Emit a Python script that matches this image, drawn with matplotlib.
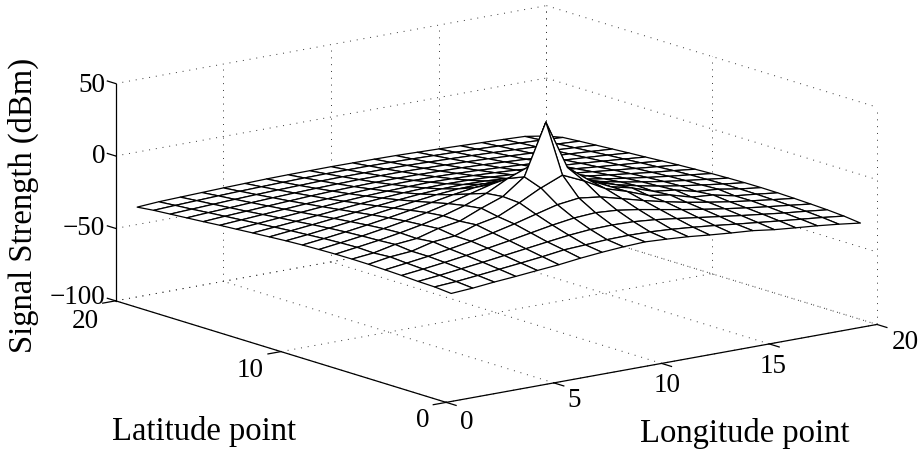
import numpy as np
import matplotlib
matplotlib.use('Agg')
import matplotlib.pyplot as plt

# Signal strength (dBm), one row per latitude point 1..20, columns are longitude 1..20
lon_points = list(range(1, 21))
lat_points = list(range(1, 21))
z_rows = [
    [-31.0, -30.0, -28.5, -27.3, -25.9, -24.6, -22.8, -21.4, -20.3, -19.6, -20.4, -21.4, -22.9, -24.2, -25.3, -27.3, -28.7, -30.0, -31.6, -33.5],
    [-30.0, -29.0, -27.5, -25.9, -24.3, -22.6, -20.6, -19.8, -18.9, -18.6, -18.9, -19.8, -21.1, -22.6, -24.3, -25.9, -27.5, -29.0, -30.5, -32.2],
    [-29.7, -28.2, -26.4, -24.6, -22.6, -20.6, -18.6, -16.7, -15.4, -15.0, -15.4, -16.7, -18.6, -20.6, -22.6, -24.6, -26.4, -28.2, -29.7, -31.4],
    [-29.1, -27.4, -25.5, -23.4, -21.1, -18.6, -15.9, -13.2, -11.0, -10.0, -11.0, -13.2, -15.9, -18.6, -21.1, -23.4, -25.5, -27.4, -29.1, -30.9],
    [-28.7, -26.8, -24.8, -22.4, -19.8, -16.7, -13.2, -9.2, -5.3, -3.4, -5.3, -9.2, -13.2, -16.7, -19.8, -22.4, -24.8, -26.8, -28.7, -30.5],
    [-28.4, -26.0, -24.8, -21.0, -19.6, -14.6, -11.6, -4.8, 2.8, 9.0, 2.3, -5.8, -10.4, -15.9, -18.2, -22.4, -23.6, -26.9, -28.4, -30.2],
    [-28.3, -26.8, -23.6, -22.2, -18.0, -15.6, -9.4, -4.0, 7.0, 42.0, 8.0, -3.4, -10.6, -14.2, -19.2, -21.0, -24.7, -25.8, -28.3, -30.1],
    [-28.4, -26.4, -24.3, -21.8, -18.9, -15.4, -11.0, -5.3, 2.3, 8.0, 2.3, -5.3, -11.0, -15.4, -18.9, -21.8, -24.3, -26.4, -28.4, -30.2],
    [-28.7, -26.8, -24.8, -22.4, -19.8, -16.7, -13.2, -9.2, -5.3, -3.4, -5.3, -9.2, -13.2, -16.7, -19.8, -22.4, -24.8, -26.8, -28.7, -30.5],
    [-29.1, -27.4, -25.5, -23.4, -21.1, -18.6, -15.9, -13.2, -11.0, -10.0, -11.0, -13.2, -15.9, -18.6, -21.1, -23.4, -25.5, -27.4, -29.1, -30.9],
    [-29.7, -28.2, -26.4, -24.6, -22.6, -20.6, -18.6, -16.7, -15.4, -15.0, -15.4, -16.7, -18.6, -20.6, -22.6, -24.6, -26.4, -28.2, -29.7, -31.4],
    [-30.5, -29.0, -27.5, -25.9, -24.3, -22.6, -21.1, -19.8, -18.9, -18.6, -18.9, -19.8, -21.1, -22.6, -24.3, -25.9, -27.5, -29.0, -30.5, -32.0],
    [-31.3, -30.0, -28.7, -27.3, -25.9, -24.6, -23.4, -22.4, -21.8, -21.6, -21.8, -22.4, -23.4, -24.6, -25.9, -27.3, -28.7, -30.0, -31.3, -32.7],
    [-32.2, -31.0, -29.8, -28.7, -27.5, -26.4, -25.5, -24.8, -24.3, -24.0, -24.3, -24.8, -25.5, -26.4, -27.5, -28.7, -29.8, -31.0, -32.2, -33.5],
    [-33.0, -32.0, -31.0, -30.0, -29.0, -28.2, -27.4, -26.8, -26.4, -26.3, -26.4, -26.8, -27.4, -28.2, -29.0, -30.0, -31.0, -32.0, -33.0, -34.2],
    [-34.0, -33.0, -32.2, -31.3, -30.5, -29.7, -29.1, -28.7, -28.4, -28.3, -28.4, -28.7, -29.1, -29.7, -30.5, -31.3, -32.2, -33.0, -34.0, -35.0],
    [-34.9, -34.0, -33.3, -32.5, -31.8, -31.2, -30.7, -30.3, -30.0, -30.0, -30.0, -30.3, -30.7, -31.2, -31.8, -32.5, -33.3, -34.0, -34.9, -35.8],
    [-35.8, -35.1, -34.4, -33.7, -33.1, -32.6, -32.2, -31.8, -31.6, -31.6, -31.6, -31.8, -32.2, -32.6, -33.1, -33.7, -34.4, -35.1, -35.8, -36.6],
    [-36.7, -36.0, -35.4, -34.8, -34.3, -33.9, -33.5, -33.2, -33.0, -33.0, -33.0, -33.2, -33.5, -33.9, -34.3, -34.8, -35.4, -36.0, -36.7, -37.5],
    [-38.0, -37.0, -36.5, -36.0, -35.5, -35.1, -34.7, -34.5, -34.4, -34.3, -34.4, -34.5, -34.7, -35.1, -35.5, -36.0, -36.5, -37.0, -37.6, -40.0],
]
lon_ticks = [0, 5, 10, 15, 20]
lat_ticks = [0, 10, 20]
z_ticks = [-100, -50, 0, 50]

W, H = 921, 452
plt.rcParams['font.family'] = ['Liberation Serif', 'DejaVu Serif']

fig = plt.figure(figsize=(W / 100, H / 100), dpi=100)
ax = fig.add_axes([0, 0, 1, 1], projection='3d', proj_type='ortho', computed_zorder=False)
ax.view_init(elev=30, azim=-127.5)
ax.set_box_aspect((1, 1, 0.98))
ax.set_xlim(0, 20)
ax.set_ylim(0, 20)
ax.set_zlim(-100, 50)
ax.set_axis_off()
ax.patch.set_alpha(0)

# matlab stretches the box to fill the figure, mplot3d wants it square
rect = ax.get_position(original=True)
ax.apply_aspect = lambda position=None: ax._set_position(rect, 'active')
s = ax._box_aspect[0]
ax.viewLim.intervalx = (-496.3 * s / 5430, (W - 496.3) * s / 5430)
ax.viewLim.intervaly = (-(H - 205) * s / 2560, 205 * s / 2560)


def dotted(xs, ys, zs):
    ax.plot(xs, ys, zs, color='#333333', lw=0.7, ls=(0, (1, 6)), zorder=1)


def solid(xs, ys, zs):
    ax.plot(xs, ys, zs, color='k', lw=0.9, zorder=3)


for v in lon_ticks:
    dotted([v, v], [0, 20], [-100, -100])
    dotted([v, v], [20, 20], [-100, 50])
for v in lat_ticks:
    dotted([0, 20], [v, v], [-100, -100])
    dotted([20, 20], [v, v], [-100, 50])
for v in z_ticks:
    dotted([0, 20], [20, 20], [v, v])
    dotted([20, 20], [20, 0], [v, v])

solid([0, 0], [20, 20], [-100, 50])
solid([0, 0], [20, 0], [-100, -100])
solid([0, 20], [0, 0], [-100, -100])
for v in z_ticks:
    solid([0, 0], [20, 20.5], [v, v])
for v in lat_ticks:
    solid([0, -0.6], [v, v], [-100, -100])
for v in lon_ticks:
    solid([v, v], [0, -0.6], [-100, -100])

X, Y = np.meshgrid(lon_points, lat_points)
ax.plot_surface(X, Y, np.array(z_rows), rstride=1, cstride=1, color='white',
                edgecolor='k', linewidth=0.9, shade=False, zorder=2)


def label(px, py, txt, **kw):
    fig.text(px / W, 1 - py / H, txt, ha='center', va='center', color='k', **kw)


fs = 19.5
for py, txt in zip([85, 157, 229], ['50', '0', '\u221250']):
    fig.text(105 / W, 1 - py / H, txt, ha='right', va='center', fontsize=fs)
fig.text(105 / W, 1 - 298 / H, '\u2212100', ha='right', va='center', fontsize=fs)
for px, py, txt in [(85, 321, '20'), (250, 371, '10'), (423, 421, '0')]:
    label(px, py, txt, fontsize=fs)
for px, py, txt in [(467, 423, '0'), (574, 401, '5'), (667, 385, '10'), (773, 367, '15'), (905, 343, '20')]:
    label(px, py, txt, fontsize=fs)
label(204, 432, 'Latitude point', fontsize=23.5)
label(745, 434, 'Longitude point', fontsize=23.5)
label(23, 205, 'Signal Strength (dBm)', fontsize=23.5, rotation=90)

fig.savefig('out.png', dpi=100)
